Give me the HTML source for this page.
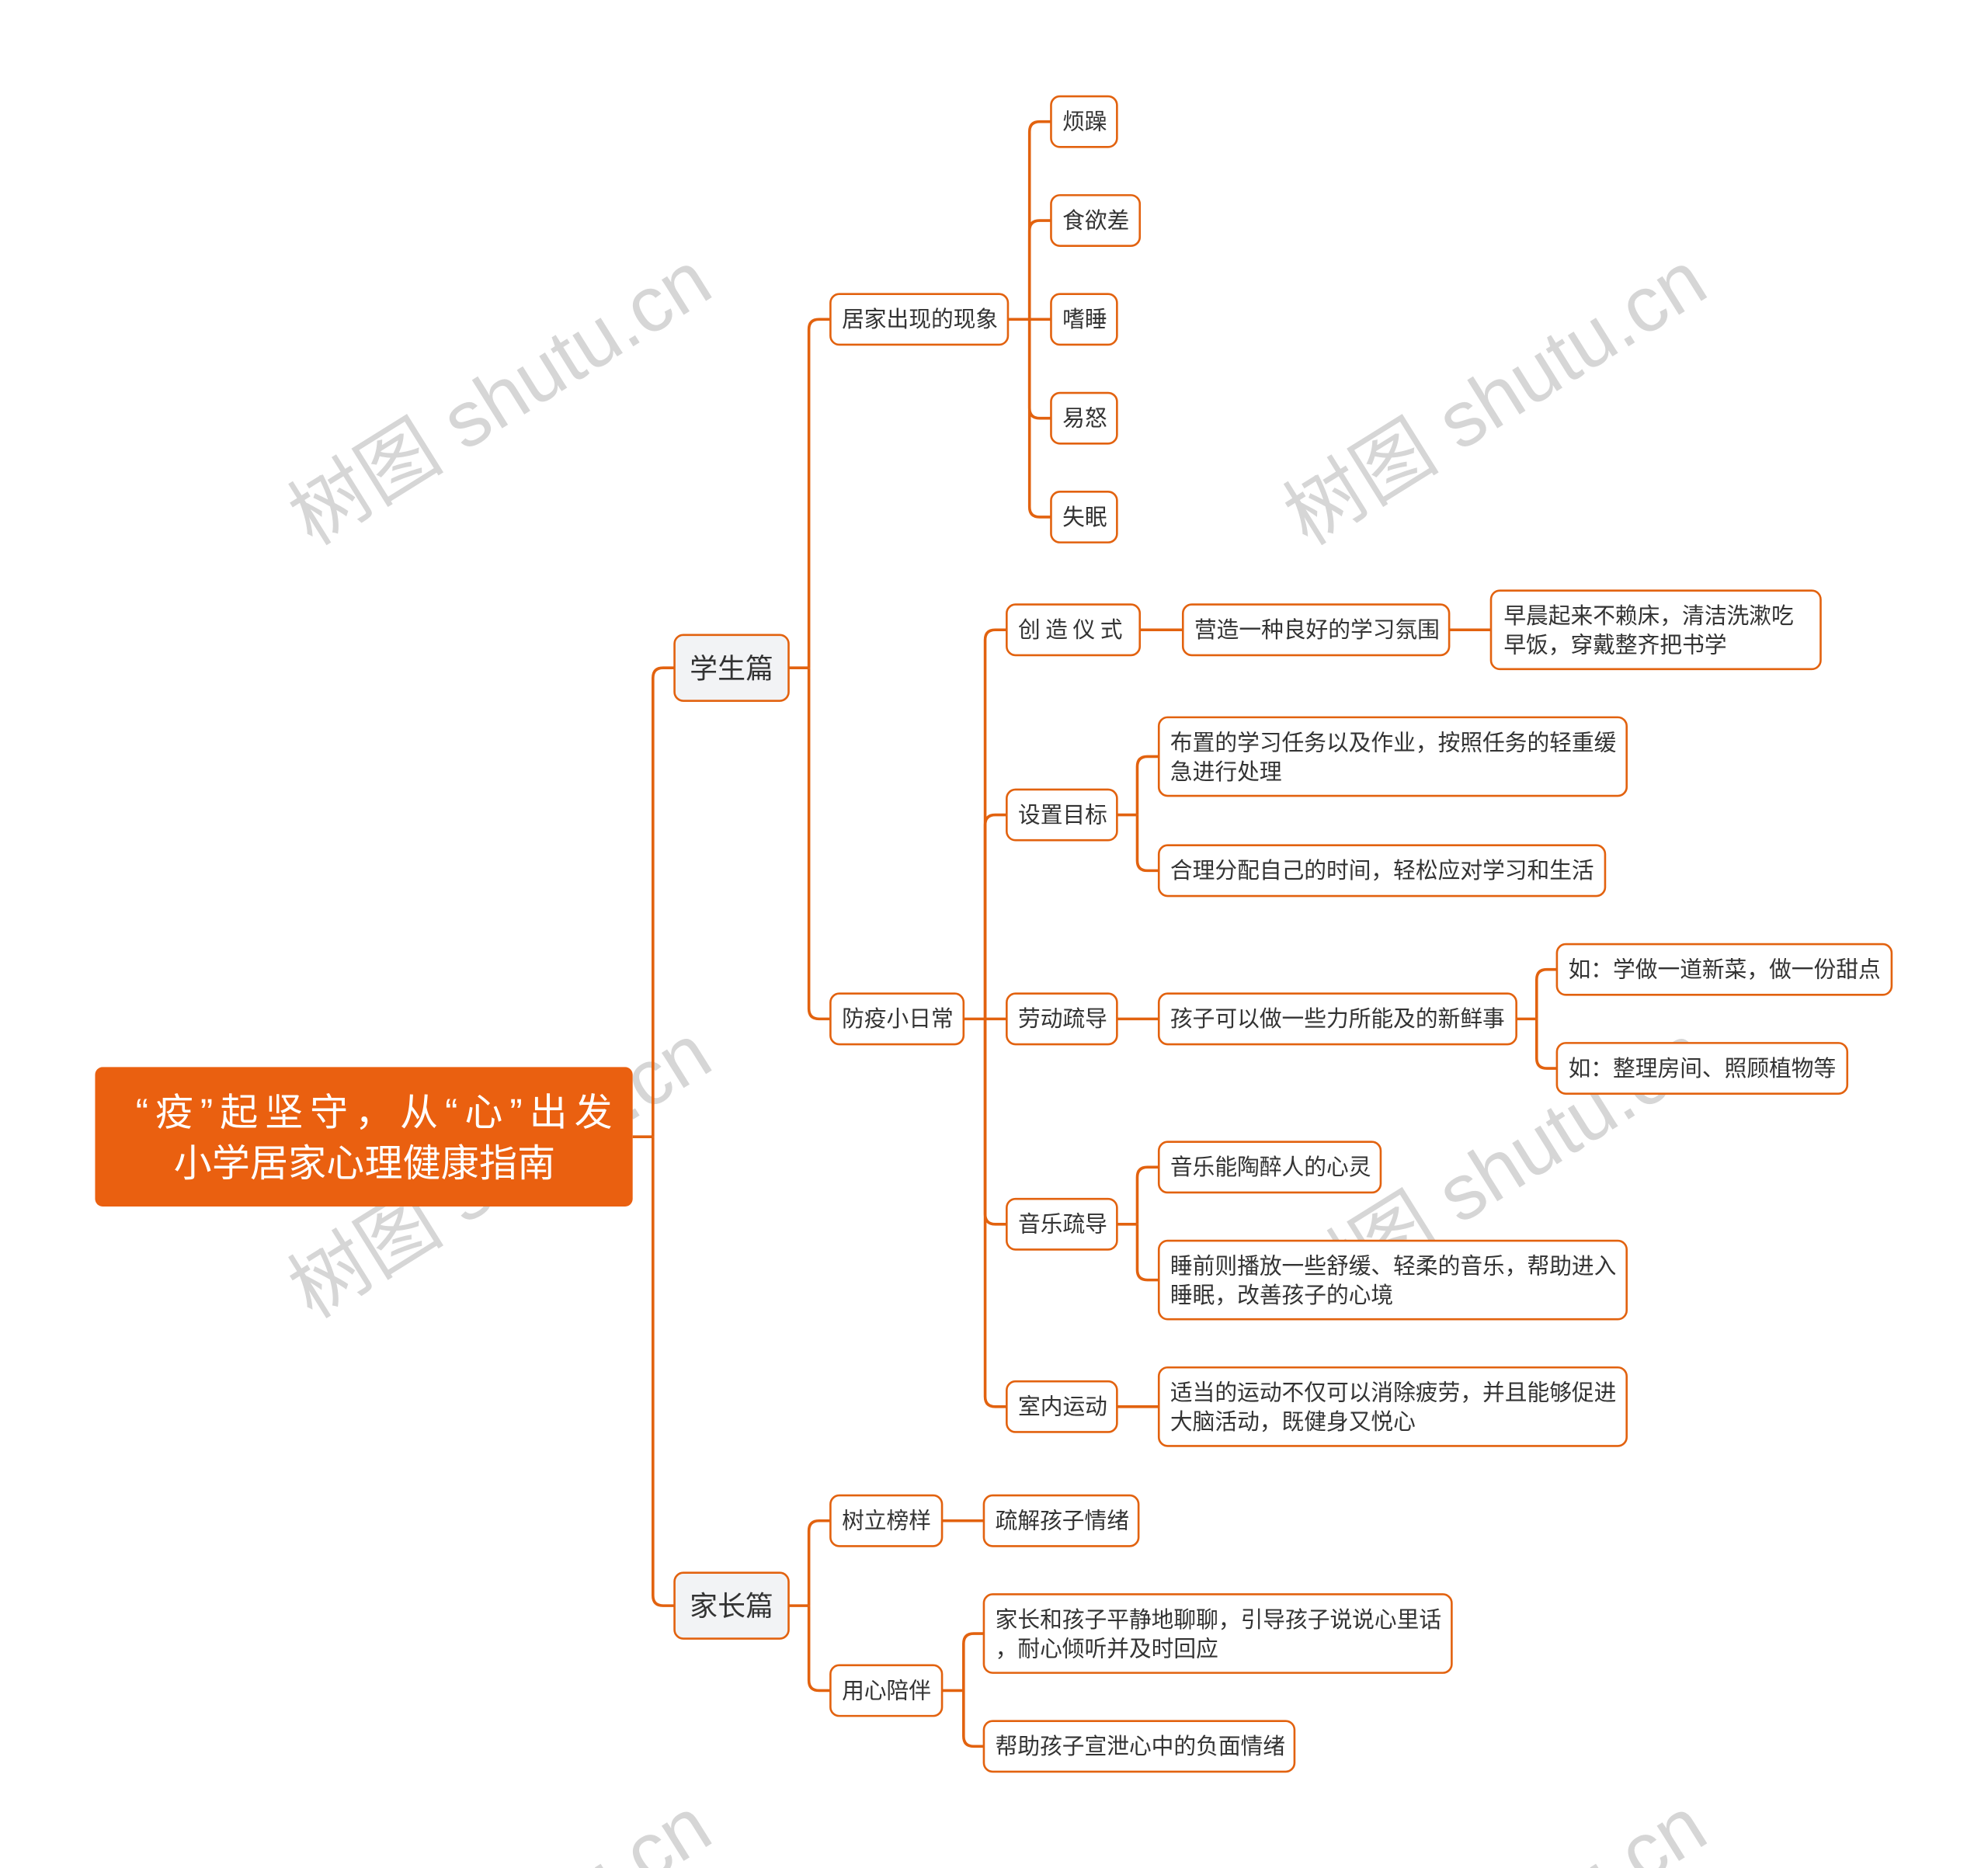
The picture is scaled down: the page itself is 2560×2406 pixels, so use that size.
<!DOCTYPE html>
<html><head><meta charset="utf-8"><style>
html,body{margin:0;padding:0;background:#fff;width:2560px;height:2406px;overflow:hidden;}
svg{display:block;}
text{font-family:"Liberation Sans","Noto Sans CJK SC",sans-serif;}
</style></head><body>
<svg width="2560" height="2406" viewBox="0 0 1568 1474" preserveAspectRatio="none" xmlns="http://www.w3.org/2000/svg" overflow="hidden">
<defs><clipPath id="c"><rect x="0" y="0" width="1568" height="1474"/></clipPath></defs>
<g clip-path="url(#c)" font-family="Liberation Serif, Noto Serif CJK SC, serif" font-size="62" fill="#d6d6d6">
<text x="395" y="335" text-anchor="middle" transform="rotate(-32 395 315)">树图 shutu.cn</text>
<text x="1180" y="335" text-anchor="middle" transform="rotate(-32 1180 315)">树图 shutu.cn</text>
<text x="395" y="945" text-anchor="middle" transform="rotate(-32 395 925)">树图 shutu.cn</text>
<text x="1180" y="945" text-anchor="middle" transform="rotate(-32 1180 925)">树图 shutu.cn</text>
<text x="395" y="1555" text-anchor="middle" transform="rotate(-32 395 1535)">树图 shutu.cn</text>
<text x="1180" y="1555" text-anchor="middle" transform="rotate(-32 1180 1535)">树图 shutu.cn</text>
</g>
<g fill="none" stroke="#e2620f" stroke-width="2.2">
<path d="M499 897 H515"/>
<path d="M515 897 V535 Q515 527 523 527 H532"/>
<path d="M515 897 V1259 Q515 1267 523 1267 H532"/>
<path d="M622 527 H638"/>
<path d="M638 527 V260 Q638 252 646 252 H655"/>
<path d="M638 527 V796 Q638 804 646 804 H655"/>
<path d="M795 252 H812"/>
<path d="M812 252 V104 Q812 96 820 96 H829"/>
<path d="M812 252 V182 Q812 174 820 174 H829"/>
<path d="M812 252 H829"/>
<path d="M812 252 V322 Q812 330 820 330 H829"/>
<path d="M812 252 V400 Q812 408 820 408 H829"/>
<path d="M760 804 H777"/>
<path d="M777 804 V505 Q777 497 785 497 H794"/>
<path d="M777 804 V651 Q777 643 785 643 H794"/>
<path d="M777 804 H794"/>
<path d="M777 804 V958 Q777 966 785 966 H794"/>
<path d="M777 804 V1102 Q777 1110 785 1110 H794"/>
<path d="M899 497 H933"/>
<path d="M1143 497 H1176"/>
<path d="M881 643 H897"/>
<path d="M897 643 V605 Q897 597 905 597 H914"/>
<path d="M897 643 V679 Q897 687 905 687 H914"/>
<path d="M881 804 H914"/>
<path d="M1196 804 H1212"/>
<path d="M1212 804 V773 Q1212 765 1220 765 H1228"/>
<path d="M1212 804 V835 Q1212 843 1220 843 H1228"/>
<path d="M881 966 H897"/>
<path d="M897 966 V929 Q897 921 905 921 H914"/>
<path d="M897 966 V1002 Q897 1010 905 1010 H914"/>
<path d="M881 1110 H914"/>
<path d="M622 1267 H638"/>
<path d="M638 1267 V1208 Q638 1200 646 1200 H655"/>
<path d="M638 1267 V1326 Q638 1334 646 1334 H655"/>
<path d="M743 1200 H776"/>
<path d="M743 1334 H760"/>
<path d="M760 1334 V1297 Q760 1289 768 1289 H776"/>
<path d="M760 1334 V1370 Q760 1378 768 1378 H776"/>
</g>
<rect x="75" y="842" width="424" height="110" rx="6" fill="#ea6010"/>
<text x="107" y="888" font-size="30" fill="#fff" textLength="376" lengthAdjust="spacing">“疫”起坚守，从“心”出发</text>
<text x="137" y="928" font-size="30" fill="#fff" textLength="301" lengthAdjust="spacing">小学居家心理健康指南</text>
<g fill="#f2f3f5" stroke="#e2620f" stroke-width="1.6">
<rect x="532" y="501" width="90" height="52" rx="7"/>
<rect x="532" y="1241" width="90" height="52" rx="7"/>
</g>
<g font-size="22" fill="#333" text-anchor="middle">
<text x="577" y="535">学生篇</text>
<text x="577" y="1275">家长篇</text>
</g>
<g fill="#fff" stroke="#e2620f" stroke-width="1.6">
<rect x="655" y="232" width="140" height="40" rx="7"/>
<rect x="829" y="76" width="52" height="40" rx="7"/>
<rect x="829" y="154" width="70" height="40" rx="7"/>
<rect x="829" y="232" width="52" height="40" rx="7"/>
<rect x="829" y="310" width="52" height="40" rx="7"/>
<rect x="829" y="388" width="52" height="40" rx="7"/>
<rect x="655" y="784" width="105" height="40" rx="7"/>
<rect x="794" y="477" width="105" height="40" rx="7"/>
<rect x="933" y="477" width="210" height="40" rx="7"/>
<rect x="1176" y="466" width="260" height="62" rx="7"/>
<rect x="794" y="623" width="87" height="40" rx="7"/>
<rect x="914" y="566" width="369" height="62" rx="7"/>
<rect x="914" y="667" width="352" height="40" rx="7"/>
<rect x="794" y="784" width="87" height="40" rx="7"/>
<rect x="914" y="784" width="282" height="40" rx="7"/>
<rect x="1228" y="745" width="264" height="40" rx="7"/>
<rect x="1228" y="823" width="229" height="40" rx="7"/>
<rect x="794" y="946" width="87" height="40" rx="7"/>
<rect x="914" y="901" width="175" height="40" rx="7"/>
<rect x="914" y="979" width="369" height="62" rx="7"/>
<rect x="794" y="1090" width="87" height="40" rx="7"/>
<rect x="914" y="1079" width="369" height="62" rx="7"/>
<rect x="655" y="1180" width="88" height="40" rx="7"/>
<rect x="776" y="1180" width="122" height="40" rx="7"/>
<rect x="655" y="1314" width="88" height="40" rx="7"/>
<rect x="776" y="1258" width="369" height="62" rx="7"/>
<rect x="776" y="1358" width="245" height="40" rx="7"/>
</g>
<g font-size="17.6" fill="#333">
<text x="664" y="258">居家出现的现象</text>
<text x="838" y="102">烦躁</text>
<text x="838" y="180">食欲差</text>
<text x="838" y="258">嗜睡</text>
<text x="838" y="336">易怒</text>
<text x="838" y="414">失眠</text>
<text x="664" y="810">防疫小日常</text>
<text x="803" y="503" letter-spacing="4">创造仪式</text>
<text x="942" y="503">营造一种良好的学习氛围</text>
<text x="1186" y="492">早晨起来不赖床，清洁洗漱吃</text>
<text x="1186" y="515">早饭，穿戴整齐把书学</text>
<text x="803" y="649">设置目标</text>
<text x="923" y="592">布置的学习任务以及作业，按照任务的轻重缓</text>
<text x="923" y="615">急进行处理</text>
<text x="923" y="693">合理分配自己的时间，轻松应对学习和生活</text>
<text x="803" y="810">劳动疏导</text>
<text x="923" y="810">孩子可以做一些力所能及的新鲜事</text>
<text x="1237" y="771">如：学做一道新菜，做一份甜点</text>
<text x="1237" y="849">如：整理房间、照顾植物等</text>
<text x="803" y="972">音乐疏导</text>
<text x="923" y="927">音乐能陶醉人的心灵</text>
<text x="923" y="1005">睡前则播放一些舒缓、轻柔的音乐，帮助进入</text>
<text x="923" y="1028">睡眠，改善孩子的心境</text>
<text x="803" y="1116">室内运动</text>
<text x="923" y="1105">适当的运动不仅可以消除疲劳，并且能够促进</text>
<text x="923" y="1128">大脑活动，既健身又悦心</text>
<text x="664" y="1206">树立榜样</text>
<text x="785" y="1206">疏解孩子情绪</text>
<text x="664" y="1340">用心陪伴</text>
<text x="785" y="1284">家长和孩子平静地聊聊，引导孩子说说心里话</text>
<text x="785" y="1307">，耐心倾听并及时回应</text>
<text x="785" y="1384">帮助孩子宣泄心中的负面情绪</text>
</g>
</svg>
</body></html>
